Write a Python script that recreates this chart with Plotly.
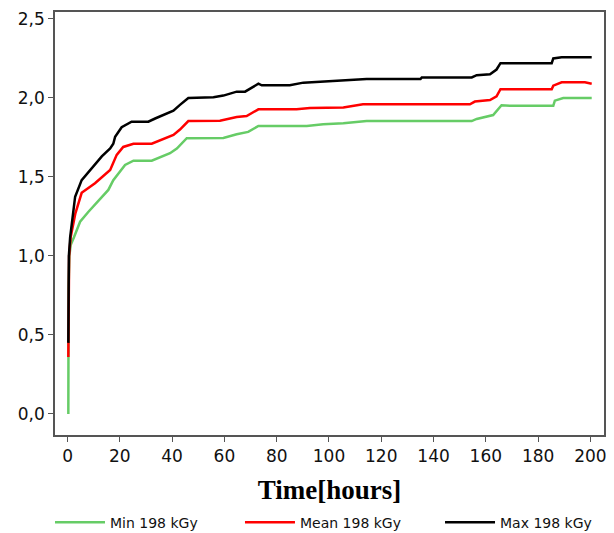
import plotly.graph_objects as go

# time in hours
max_x = [0.3, 0.35, 0.5, 1.0, 2.2, 2.9, 5.4, 9.2, 13.1, 16.3, 17.5, 18.2, 20.7, 24.5, 30.9, 33.5,
         40.5, 43, 46.2, 55.8, 59.6, 64.7, 67.9, 71, 73, 74.3, 85, 90.2, 105.5, 114.4, 135, 135.5,
         154.6, 156.5, 161.6, 164.1, 165.6, 185.2, 185.8, 189, 200.5]
max_y = [0.45, 0.8, 1.0, 1.12, 1.27, 1.375, 1.48, 1.555, 1.63, 1.68, 1.71, 1.755, 1.815, 1.85, 1.85, 1.87,
         1.92, 1.956, 2.0, 2.005, 2.015, 2.04, 2.04, 2.07, 2.09, 2.08, 2.08, 2.097, 2.11, 2.12, 2.12, 2.13,
         2.13, 2.144, 2.15, 2.18, 2.22, 2.22, 2.25, 2.257, 2.257]

mean_x = [0.3, 0.4, 0.6, 1.2, 3.0, 5.4, 10.5, 16.3, 18.8, 21.3, 25.2, 32.2, 40.5, 43, 46.2, 58.3,
          64.7, 68.5, 73, 87.6, 92.7, 105.5, 113, 153.9, 155.8, 161.6, 164.1, 165.6, 185.2, 185.8,
          189, 197.9, 200.5]
mean_y = [0.36, 0.7, 1.0, 1.12, 1.27, 1.40, 1.46, 1.544, 1.64, 1.69, 1.71, 1.71, 1.766, 1.80, 1.854, 1.856,
          1.88, 1.886, 1.928, 1.928, 1.937, 1.94, 1.96, 1.96, 1.977, 1.987, 2.01, 2.055, 2.055, 2.078,
          2.099, 2.099, 2.09]

min_x = [0.3, 0.3, 0.4, 0.7, 1.2, 2.5, 4.8, 8, 15.6, 17.5, 22, 25.2, 32.2, 39.2, 41.8, 45.6, 59.6,
         64.7, 69.1, 73, 91.5, 97.8, 105.5, 114.4, 154.6, 156.5, 162.8, 166, 169.2, 185.8, 186.4,
         189.6, 200.5]
min_y = [0.0, 0.5, 0.8, 1.0, 1.07, 1.12, 1.217, 1.28, 1.418, 1.48, 1.576, 1.603, 1.603, 1.65, 1.68, 1.745, 1.747,
         1.77, 1.785, 1.823, 1.823, 1.833, 1.84, 1.854, 1.854, 1.867, 1.892, 1.954, 1.95, 1.95, 1.983,
         2.0, 2.0]

x_ticks = [0, 20, 40, 60, 80, 100, 120, 140, 160, 180, 200]
y_ticks = [0.0, 0.5, 1.0, 1.5, 2.0, 2.5]

fig = go.Figure()

fig.add_trace(go.Scatter(x=min_x, y=min_y, mode='lines', name='Min 198 kGy', legend='legend',
                         line=dict(color='#66cc66', width=2.5)))
fig.add_trace(go.Scatter(x=mean_x, y=mean_y, mode='lines', name='Mean 198 kGy', legend='legend2',
                         line=dict(color='#ff0000', width=2.5)))
fig.add_trace(go.Scatter(x=max_x, y=max_y, mode='lines', name='Max 198 kGy', legend='legend3',
                         line=dict(color='#000000', width=2.5)))

axis_common = dict(
    showline=True, linecolor='#555555', linewidth=1.5, mirror=True,
    ticks='outside', ticklen=5, tickcolor='#555555', tickwidth=1,
    showgrid=False, zeroline=False, automargin=False,
    tickfont=dict(family='DejaVu Sans', size=17, color='#111111'),
)

# the page body adds an 8px offset, so the figure is 8px smaller
legend_common = dict(orientation='h', xref='container', yref='container',
                     xanchor='left', y=0.05, yanchor='top', itemwidth=50,
                     bgcolor='rgba(0,0,0,0)',
                     font=dict(family='DejaVu Sans', size=14, color='#111111'))

fig.update_layout(
    width=606, height=525,
    margin=dict(l=47, r=10, t=4, b=98),
    plot_bgcolor='#ffffff', paper_bgcolor='#ffffff',
    separators=',.',
    xaxis=dict(range=[-4.8, 205.2], tickvals=x_ticks,
               title=dict(text='<b>Time[hours]</b>', standoff=15,
                          font=dict(family='Liberation Serif', size=27, color='#000000')),
               **axis_common),
    yaxis=dict(range=[-0.133, 2.544], tickvals=y_ticks, tickformat='.1f', **axis_common),
    showlegend=True,
    legend=dict(x=0.0693, **legend_common),
    legend2=dict(x=0.3828, **legend_common),
    legend3=dict(x=0.7129, **legend_common),
)

fig.write_html("out.html")
